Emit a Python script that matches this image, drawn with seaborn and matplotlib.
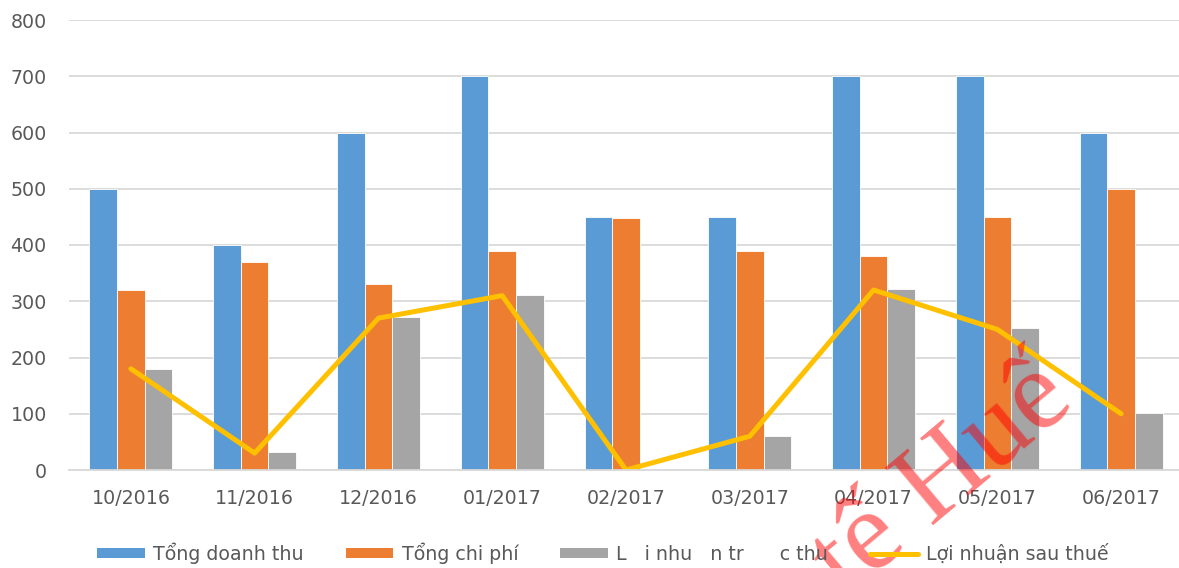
import matplotlib
matplotlib.use("Agg")
import matplotlib.pyplot as plt
import seaborn as sns
import pandas as pd
from matplotlib.patches import Patch
from matplotlib.lines import Line2D

months = ["10/2016", "11/2016", "12/2016", "01/2017", "02/2017",
          "03/2017", "04/2017", "05/2017", "06/2017"]
tong_doanh_thu = [500, 400, 600, 700, 450, 450, 700, 700, 600]
tong_chi_phi = [320, 370, 330, 390, 448, 390, 380, 450, 500]
loi_nhuan_truoc_thue = [180, 32, 272, 312, 2, 60, 322, 252, 102]
loi_nhuan_sau_thue = [180, 30, 270, 310, 0, 60, 320, 250, 100]

series_names = ["Tổng doanh thu", "Tổng chi phí", "L   i nhu   n tr      c thu"]
line_name = "Lợi nhuận sau thuế"
bar_colors = ["#5B9BD5", "#ED7D31", "#A5A5A5"]
line_color = "#FFC000"

rows = []
for name, vals in zip(series_names, [tong_doanh_thu, tong_chi_phi, loi_nhuan_truoc_thue]):
    for m, v in zip(months, vals):
        rows.append({"month": m, "series": name, "value": v})
df = pd.DataFrame(rows)
df_line = pd.DataFrame({"month": months, "value": loi_nhuan_sau_thue})

sns.set_theme(style="white")
plt.rcParams["font.family"] = ["DejaVu Sans"]

fig = plt.figure(figsize=(11.79, 5.68), dpi=100)
ax = fig.add_axes([69 / 1179, 98 / 568, 1114 / 1179, 450 / 568])

sns.barplot(data=df, x="month", y="value", hue="series", order=months,
            hue_order=series_names, palette=bar_colors, saturation=1,
            width=0.67, edgecolor="white", linewidth=0.6, ax=ax, legend=False)
sns.lineplot(data=df_line, x="month", y="value", color=line_color,
             linewidth=3.6, ax=ax, legend=False, sort=False)

ax.set_ylim(0, 800)
ax.set_xlim(-0.5, len(months) - 0.5)
ax.set_yticks(range(0, 801, 100))
ax.yaxis.grid(True, color="#d9d9d9", linewidth=1.3)
ax.set_axisbelow(True)
for s in ["top", "right", "left"]:
    ax.spines[s].set_visible(False)
ax.spines["bottom"].set_color("#d9d9d9")
ax.spines["bottom"].set_linewidth(1.3)
ax.set_xlabel("")
ax.set_ylabel("")
ax.tick_params(axis="both", length=0, labelsize=13.7, labelcolor="#595959")
ax.tick_params(axis="y", pad=16)
ax.tick_params(axis="x", pad=14)

handles = [Patch(facecolor=c, edgecolor="none") for c in bar_colors]
handles.append(Line2D([0], [0], color=line_color, linewidth=3.6))
fig.legend(handles, series_names + [line_name], loc="center",
           bbox_to_anchor=(603 / 1179, 1 - 553 / 568), ncol=4, frameon=False,
           fontsize=13.7, labelcolor="#595959", handlelength=2.5,
           handleheight=0.45, handletextpad=0.45, columnspacing=2.2)

fig.text(846 / 1179, 1 - 598 / 568, "tế Huế", fontsize=82,
         family="Liberation Serif", color="red", alpha=0.5, rotation=40,
         ha="left", va="baseline", rotation_mode="anchor")

fig.savefig("out.png", dpi=100)
